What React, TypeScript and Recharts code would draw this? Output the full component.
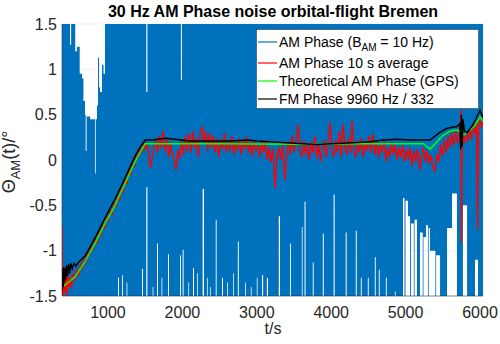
import { ComposedChart, Area, Line, XAxis, YAxis, CartesianGrid } from "recharts";

// AM phase raw (blue): envelope per segment start, clipped at ±1.5
const blueT = [
  382, 490, 505, 560, 584, 620, 651, 670, 691, 700, 712, 760, 825, 835, 852, 866, 880, 893, 920, 940,
  960, 1135, 1148, 1188, 1200, 1250, 1260, 1457, 1470, 1515, 1530, 1600, 1610, 1659, 1672, 1720, 1730,
  1807, 1820, 1968, 1980, 1993, 2003, 2016, 2080, 2090, 2143, 2156, 2200, 2210, 2272, 2290, 2330, 2340,
  2370, 2380, 2448, 2460, 2532, 2545, 2600, 2610, 2680, 2690, 2745, 2758, 2842, 2852, 2920, 2930, 3000, 3010,
  3070, 3085, 3135, 3150, 3295, 3312, 3446, 3458, 3605, 3615, 3642, 3655, 3752, 3764, 3887, 3900,
  4032, 4046, 4195, 4208, 4330, 4343, 4398, 4410, 4492, 4504, 4586, 4598, 4640, 4652, 4735, 4747,
  4855, 4866, 4965, 4985, 4998, 5032, 5060, 5072, 5110, 5120, 5153, 5193, 5230, 5240, 5275, 5300, 5310, 5328,
  5400, 5410, 5463, 5557, 5624, 5690, 5770, 5826, 5933, 5973, 6040,
];
const blueHi = [
  2, 1.27, 2, 1.2, 1.25, 0.95, 0.9, 0.65, 0.5, 0.1, 0.48, 0.45, -0.15, 0.45, 0.6, 1.13, 0.8, 0.75, 1.05, 0.95,
  2, 2, 2, 2, 2, 2, 2, 2, 2, 0.75, 2, 2, 2, 2, 2, 2, 2,
  2, 2, 2, 0.88, 2, 2, 2, 2, 2, 2, 2, 2, 2, 2, 2, 2, 2,
  2, 2, 2, 2, 2, 2, 2, 2, 2, 2, 2, 2, 2, 2, 2, 2, 2, 2,
  2, 2, 2, 2, 2, 2, 2, 2, 2, 2, 2, 2, 2, 2, 2, 2,
  2, 2, 2, 2, 2, 2, 2, 2, 2, 2, 2, 2, 2, 2, 2, 2,
  2, 2, 2, 2, 2, 2, 2, 2, 2, 2, 2, 2, 2, 2, 2, 2, 2, 2,
  2, 2, 2, 2, 2, 2, 2, 2, 2, 2, 2,
];
const blueLo = [
  -2, -2, -2, -2, -2, -2, -2, -2, -2, -2, -2, -2, -2, -2, -2, -2, -2, -2, -2, -2,
  -2, -1.3, -2, -1.27, -2, -1.35, -2, -1.2, -2, -0.3, -2, -1.4, -2, -0.92, -2, -1.3, -2,
  -1.04, -2, -1.05, -2, -2, -0.99, -2, -1.35, -2, -1.19, -2, -1.25, -2, -0.32, -2, -1.3, -2,
  -1.4, -2, -0.66, -2, -1.3, -2, -1.35, -2, -1.25, -2, -0.9, -2, -1.35, -2, -1.4, -2, -1.3, -2,
  -1.27, -2, -1.3, -2, -0.62, -2, -0.92, -2, -0.74, -2, -0.46, -2, -1.13, -2, -0.81, -2,
  -0.38, -2, -0.8, -2, -0.78, -2, -1.3, -2, -1.3, -2, -1.07, -2, -1.21, -2, -1.3, -2,
  -1.45, -2, -0.42, -2, -0.45, -0.62, -2, -0.7, -2, -0.66, -2, -0.8, -2, -0.85, -0.72, -2, -0.75, -1.0,
  -2, -1.05, -2, -0.75, -0.37, -2, -0.5, -2, -1.1, -2, -2,
];

// AM phase 10 s average (red)
const redT = [
  382, 388, 396, 404, 412, 422, 435, 448, 460, 475, 490, 510, 530, 555, 580, 605, 630, 655, 680, 705,
  730, 755, 780, 805, 830, 855, 880, 905, 930, 955, 980, 1005, 1030, 1055, 1080, 1105, 1130, 1155, 1180, 1205,
  1230, 1255, 1280, 1305, 1330, 1355, 1380, 1405, 1430, 1455, 1480, 1505, 1530, 1550, 1570, 1590, 1615, 1640, 1665, 1690,
  1715, 1740, 1765, 1790, 1815, 1840, 1865, 1890, 1915, 1940, 1965, 1990, 2015, 2040, 2065, 2090, 2115, 2140, 2165, 2190,
  2215, 2240, 2265, 2290, 2315, 2340, 2365, 2390, 2415, 2440, 2465, 2490, 2515, 2540, 2565, 2590, 2615, 2640, 2665, 2690,
  2715, 2740, 2765, 2790, 2815, 2840, 2865, 2890, 2915, 2940, 2965, 2990, 3015, 3040, 3065, 3090, 3115, 3140, 3165, 3190,
  3215, 3245, 3270, 3295, 3320, 3345, 3380, 3400, 3425, 3450, 3475, 3500, 3530, 3555, 3580, 3605, 3630, 3655, 3680, 3705,
  3730, 3755, 3780, 3805, 3830, 3855, 3880, 3905, 3930, 3955, 3984, 4010, 4035, 4060, 4085, 4110, 4135, 4159, 4185, 4210,
  4235, 4260, 4280, 4305, 4330, 4355, 4380, 4405, 4430, 4455, 4480, 4505, 4530, 4560, 4585, 4610, 4635, 4660, 4685, 4710,
  4735, 4760, 4785, 4810, 4835, 4860, 4885, 4910, 4935, 4960, 4985, 5010, 5035, 5060, 5085, 5110, 5135, 5160, 5193, 5215,
  5240, 5265, 5290, 5315, 5340, 5365, 5395, 5420, 5445, 5470, 5495, 5520, 5545, 5570, 5595, 5620, 5645, 5670, 5700, 5725,
  5745, 5752, 5760, 5785, 5810, 5835, 5860, 5885, 5910, 5935, 5955, 5968, 5980, 6000, 6020, 6040,
];
const redV = [
  -0.72, -1.5, -1.2, -1.48, -1.25, -1.45, -1.3, -1.5, -1.22, -1.4, -1.3, -1.42, -1.25, -1.33, -1.2, -1.28, -1.15, -1.2, -1.08, -1.13,
  -1.0, -1.05, -0.95, -0.98, -0.85, -0.92, -0.78, -0.83, -0.7, -0.76, -0.62, -0.67, -0.55, -0.6, -0.46, -0.52, -0.38, -0.45, -0.3, -0.36,
  -0.2, -0.27, -0.1, -0.17, -0.02, -0.08, 0.08, 0.02, 0.14, 0.08, 0.2, 0.12, 0.18, 0.05, -0.09, 0.02, 0.12, 0.22, 0.08, 0.27,
  0.13, 0.32, 0.1, 0.24, 0.03, 0.2, 0.06, 0.0, -0.11, 0.12, 0.01, 0.22, 0.06, 0.27, 0.1, 0.3, 0.08, 0.32, 0.13, 0.24,
  0.03, 0.32, 0.36, 0.18, 0.32, 0.1, 0.3, 0.13, 0.27, 0.08, 0.24, 0.03, 0.22, 0.12, 0.3, 0.08, 0.22, 0.1, 0.27, 0.06,
  0.2, 0.1, 0.24, 0.06, 0.22, 0.12, 0.26, 0.08, 0.2, 0.04, 0.22, 0.1, 0.17, 0.03, 0.2, 0.08, 0.22, 0.0, 0.14, -0.02,
  0.12, -0.31, 0.05, 0.14, 0.0, 0.17, -0.22, 0.05, 0.2, 0.06, 0.27, 0.08, 0.22, 0.39, 0.1, 0.03, 0.22, 0.06, 0.17, 0.0,
  0.2, 0.08, 0.27, 0.03, 0.17, -0.02, 0.14, 0.22, 0.03, 0.17, 0.42, 0.1, 0.03, 0.22, 0.08, 0.32, 0.03, 0.4, 0.13, 0.06,
  0.24, 0.08, 0.44, 0.1, 0.03, 0.22, 0.08, 0.24, 0.03, 0.2, 0.1, 0.27, 0.08, 0.29, 0.06, 0.2, 0.03, 0.17, 0.08, 0.22,
  -0.02, 0.14, 0.03, 0.2, 0.06, 0.17, 0.0, 0.14, 0.03, 0.17, -0.02, 0.12, 0.0, 0.14, -0.07, 0.1, -0.02, 0.12, -0.11, 0.05,
  0.14, -0.02, 0.1, -0.04, 0.06, -0.07, -0.13, 0.06, -0.02, 0.17, 0.04, 0.22, 0.08, 0.27, 0.13, 0.3, 0.16, 0.32, 0.18, 0.32,
  0.55, -0.9, 0.3, 0.18, 0.3, 0.2, 0.34, 0.23, 0.4, 0.28, 0.42, -0.77, 0.4, 0.45, 0.36, 0.42,
];

// theoretical AM phase from GPS (green)
const greenT = [382, 422, 480, 557, 620, 691, 760, 826, 893, 960, 1030, 1094, 1160, 1229, 1300, 1363, 1430, 1500, 2500, 3500, 4500, 5240, 5330, 5420, 5500, 5600, 5700, 5760, 5790, 5850, 5920, 6000, 6040];
const greenV = [-1.4, -1.38, -1.34, -1.29, -1.21, -1.12, -1.02, -0.92, -0.81, -0.7, -0.6, -0.5, -0.38, -0.26, -0.13, -0.02, 0.08, 0.18, 0.18, 0.175, 0.18, 0.18, 0.12, 0.2, 0.27, 0.32, 0.33, 0.29, 0.28, 0.32, 0.37, 0.47, 0.43];

// FM phase 9960 Hz / 332 (black)
const blackT = [
  382, 390, 398, 406, 414, 422, 432, 442, 455, 470, 485, 500, 520, 545, 570, 600, 640, 691, 760, 826,
  900, 960, 1030, 1094, 1160, 1229, 1300, 1363, 1430, 1500, 1600, 1766, 1900, 2100, 2400, 2650, 2880, 3000, 3180, 3400,
  3620, 3810, 4000, 4300, 4520, 4700, 4885, 5050, 5193, 5330, 5450, 5557, 5690, 5730, 5740, 5750, 5760, 5770, 5790, 5826,
  5900, 5960, 6000, 6040,
];
const blackV = [
  -1.45, -1.2, -1.4, -1.18, -1.35, -1.2, -1.32, -1.16, -1.28, -1.15, -1.25, -1.14, -1.2, -1.14, -1.17, -1.13, -1.1, -1.06, -0.96, -0.86,
  -0.74, -0.64, -0.53, -0.43, -0.32, -0.2, -0.07, 0.04, 0.14, 0.22, 0.22, 0.24, 0.23, 0.21, 0.21, 0.21, 0.22, 0.21, 0.2, 0.19,
  0.18, 0.17, 0.18, 0.19, 0.2, 0.22, 0.23, 0.22, 0.22, 0.22, 0.3, 0.35, 0.37, 0.4, 0.12, 0.5, 0.15, 0.45, 0.32, 0.3,
  0.38, 0.48, 0.55, 0.47,
];

const xTicks = [1000, 2000, 3000, 4000, 5000, 6000];
const yTicks = [-1.5, -1, -0.5, 0, 0.5, 1, 1.5];

const legendItems = [
  { color: "#0072BD", text: "AM Phase (B", sub: "AM", rest: " = 10 Hz)" },
  { color: "#FF0000", text: "AM Phase 10 s average" },
  { color: "#00FF00", text: "Theoretical AM Phase (GPS)" },
  { color: "#000000", text: "FM Phase 9960 Hz / 332" },
];

const blueData = blueT.map((t, i) => ({ t, range: [blueLo[i], blueHi[i]] }));
const redData = redT.map((t, i) => ({ t, v: redV[i] }));
const greenData = greenT.map((t, i) => ({ t, v: greenV[i] }));
const blackData = blackT.map((t, i) => ({ t, v: blackV[i] }));

const FONT = "'Liberation Sans', Arial, Helvetica, sans-serif";
const INK = "#262626";

export default function App() {
  const tickStyle = { fontSize: 16, fill: INK, fontFamily: FONT };
  return (
    <div style={{ position: "absolute", left: 0, top: 0, width: 500, height: 344, background: "#fff" }}>
      <ComposedChart width={500} height={344} margin={{ top: 24, right: 17, bottom: 18, left: 0 }}>
        <CartesianGrid stroke="#e3e3e3" strokeWidth={0.5} />
        <XAxis
          dataKey="t"
          type="number"
          domain={[382, 6040]}
          ticks={xTicks}
          allowDataOverflow
          height={30}
          tick={tickStyle}
          tickLine={false}
          tickSize={6}
          tickMargin={5}
          stroke={INK}
          strokeWidth={0.5}
        />
        <XAxis xAxisId="top" dataKey="t" type="number" orientation="top" domain={[382, 6040]} ticks={xTicks} allowDataOverflow height={0} mirror tick={false} tickSize={5} stroke={INK} strokeWidth={0.5} />
        <YAxis
          type="number"
          domain={[-1.5, 1.5]}
          ticks={yTicks}
          allowDataOverflow
          width={62}
          tick={tickStyle}
          tickLine={false}
          tickSize={3}
          tickMargin={2}
          stroke={INK}
          strokeWidth={0.5}
        />
        <YAxis yAxisId="right" type="number" orientation="right" domain={[-1.5, 1.5]} ticks={yTicks} allowDataOverflow width={0} mirror tick={false} tickSize={5} stroke={INK} strokeWidth={0.5} />
        <Area data={blueData} dataKey="range" type="stepAfter" fill="#0072BD" fillOpacity={1} stroke="none" isAnimationActive={false} />
        <Line data={redData} dataKey="v" type="linear" stroke="#FF0000" strokeWidth={1.4} dot={false} isAnimationActive={false} />
        <Line data={greenData} dataKey="v" type="linear" stroke="#00FF00" strokeWidth={1.5} dot={false} isAnimationActive={false} />
        <Line data={blackData} dataKey="v" type="linear" stroke="#000000" strokeWidth={1.5} dot={false} isAnimationActive={false} />
      </ComposedChart>
      <svg width={500} height={344} style={{ position: "absolute", left: 0, top: 0, pointerEvents: "none" }} fontFamily={FONT}>
        <text x={273} y={17} textAnchor="middle" fontSize={16} fontWeight="bold" fill="#000">
          30 Hz AM Phase noise orbital-flight Bremen
        </text>
        <text x={273} y={334} textAnchor="middle" fontSize={16} fill={INK}>t/s</text>
        <text x={15} y={162} textAnchor="middle" fontSize={18} fill={INK} transform="rotate(-90 15 162)">
          Θ<tspan fontSize={13} dy={5}>AM</tspan><tspan dy={-5}>(t)/°</tspan>
        </text>
        <rect x={256.5} y={29.5} width={222} height={79} fill="#fff" stroke={INK} strokeWidth={0.5} />
        {legendItems.map((it, i) => {
          const cy = [42, 63, 81, 99][i];
          return (
            <g key={it.text}>
              <line x1={258} x2={277} y1={cy} y2={cy} stroke={it.color} strokeWidth={1.2} />
              <text x={279} y={cy + 5} fontSize={14} fill="#000">
                {it.text}
                {it.sub && <tspan fontSize={10} dy={4}>{it.sub}</tspan>}
                {it.rest && <tspan dy={-4}>{it.rest}</tspan>}
              </text>
            </g>
          );
        })}
      </svg>
    </div>
  );
}
